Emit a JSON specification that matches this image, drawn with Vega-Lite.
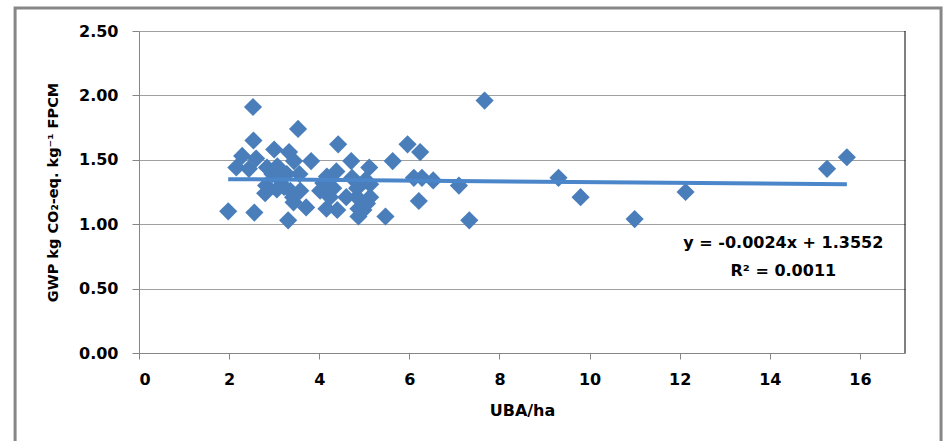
{
  "$schema": "https://vega.github.io/schema/vega-lite/v6.json",
  "width": 766,
  "height": 322,
  "autosize": {"type": "none"},
  "padding": {"left": 139, "top": 31, "right": 39, "bottom": 88},
  "background": "white",
  "config": {"view": {"stroke": null}, "font": "DejaVu Sans"},
  "datasets": {
    "farms": [
      {"uba": 1.98, "gwp": 1.10}, {"uba": 2.53, "gwp": 1.91}, {"uba": 3.53, "gwp": 1.74}, {"uba": 2.54, "gwp": 1.65},
      {"uba": 4.42, "gwp": 1.62}, {"uba": 2.29, "gwp": 1.53}, {"uba": 3.00, "gwp": 1.58}, {"uba": 3.33, "gwp": 1.56},
      {"uba": 2.60, "gwp": 1.51}, {"uba": 3.82, "gwp": 1.49}, {"uba": 4.71, "gwp": 1.49}, {"uba": 2.16, "gwp": 1.44},
      {"uba": 2.44, "gwp": 1.43}, {"uba": 3.07, "gwp": 1.45}, {"uba": 3.44, "gwp": 1.49}, {"uba": 5.11, "gwp": 1.44},
      {"uba": 4.38, "gwp": 1.41}, {"uba": 3.56, "gwp": 1.39}, {"uba": 2.96, "gwp": 1.39}, {"uba": 3.11, "gwp": 1.35},
      {"uba": 2.82, "gwp": 1.30}, {"uba": 3.22, "gwp": 1.29}, {"uba": 4.09, "gwp": 1.32}, {"uba": 4.31, "gwp": 1.28},
      {"uba": 4.84, "gwp": 1.28}, {"uba": 5.13, "gwp": 1.21}, {"uba": 2.80, "gwp": 1.24}, {"uba": 3.42, "gwp": 1.21},
      {"uba": 3.71, "gwp": 1.13}, {"uba": 2.56, "gwp": 1.09}, {"uba": 3.31, "gwp": 1.03}, {"uba": 4.16, "gwp": 1.12},
      {"uba": 4.40, "gwp": 1.11}, {"uba": 4.87, "gwp": 1.12}, {"uba": 4.87, "gwp": 1.06}, {"uba": 4.60, "gwp": 1.21},
      {"uba": 5.02, "gwp": 1.34}, {"uba": 4.18, "gwp": 1.34}, {"uba": 7.67, "gwp": 1.96}, {"uba": 5.96, "gwp": 1.62},
      {"uba": 6.24, "gwp": 1.56}, {"uba": 5.63, "gwp": 1.49}, {"uba": 6.10, "gwp": 1.36}, {"uba": 6.28, "gwp": 1.36},
      {"uba": 6.53, "gwp": 1.34}, {"uba": 7.10, "gwp": 1.30}, {"uba": 6.21, "gwp": 1.18}, {"uba": 5.47, "gwp": 1.06},
      {"uba": 7.33, "gwp": 1.03}, {"uba": 4.98, "gwp": 1.11}, {"uba": 9.31, "gwp": 1.36}, {"uba": 9.80, "gwp": 1.21},
      {"uba": 11.00, "gwp": 1.04}, {"uba": 12.13, "gwp": 1.25}, {"uba": 15.27, "gwp": 1.43}, {"uba": 15.71, "gwp": 1.52},
      {"uba": 2.84, "gwp": 1.44}, {"uba": 3.13, "gwp": 1.42}, {"uba": 3.06, "gwp": 1.27}, {"uba": 3.58, "gwp": 1.26},
      {"uba": 3.43, "gwp": 1.17}, {"uba": 4.02, "gwp": 1.26}, {"uba": 4.24, "gwp": 1.21}, {"uba": 4.84, "gwp": 1.21},
      {"uba": 5.06, "gwp": 1.16}, {"uba": 5.13, "gwp": 1.31}, {"uba": 4.73, "gwp": 1.36}, {"uba": 4.17, "gwp": 1.37},
      {"uba": 3.28, "gwp": 1.39}, {"uba": 3.36, "gwp": 1.26}
    ],
    "note": [{"line1": "y = -0.0024x + 1.3552", "line2": "R² = 0.0011"}]
  },
  "layer": [
    {
      "data": {"name": "farms"},
      "mark": {"type": "point", "shape": "diamond", "filled": true, "size": 330, "color": "#4a7ebb", "opacity": 1},
      "encoding": {
        "x": {
          "field": "uba", "type": "quantitative",
          "scale": {"domain": [0, 17], "nice": false, "zero": false},
          "axis": {
            "title": "UBA/ha", "values": [0, 2, 4, 6, 8, 10, 12, 14, 16], "grid": false,
            "domainColor": "#868686", "tickColor": "#868686", "tickSize": 6,
            "labelFont": "DejaVu Sans", "labelFontSize": 16, "labelFontWeight": "bold", "labelColor": "#000", "labelPadding": 12,
            "titleFont": "DejaVu Sans", "titleFontSize": 16, "titleFontWeight": "bold", "titleColor": "#000", "titlePadding": 15
          }
        },
        "y": {
          "field": "gwp", "type": "quantitative",
          "scale": {"domain": [0, 2.5], "nice": false},
          "axis": {
            "title": "GWP kg CO₂-eq. kg⁻¹ FPCM", "values": [0, 0.5, 1, 1.5, 2, 2.5], "format": ".2f",
            "grid": true, "gridColor": "#a0a0a0", "domainColor": "#868686", "tickColor": "#868686", "tickSize": 7,
            "labelFont": "DejaVu Sans", "labelFontSize": 16, "labelFontWeight": "bold", "labelColor": "#000", "labelPadding": 14,
            "titleFont": "DejaVu Sans", "titleFontSize": 14.5, "titleFontWeight": "bold", "titleColor": "#000", "titlePadding": 18
          }
        }
      }
    },
    {
      "data": {"name": "farms"},
      "transform": [{"regression": "gwp", "on": "uba", "extent": [1.98, 15.71]}],
      "mark": {"type": "line", "color": "#4a86c9", "strokeWidth": 4},
      "encoding": {
        "x": {"field": "uba", "type": "quantitative"},
        "y": {"field": "gwp", "type": "quantitative"}
      }
    },
    {
      "data": {"name": "note"},
      "mark": {"type": "rect", "fill": "transparent", "stroke": "#878787", "strokeWidth": 3},
      "encoding": {
        "x": {"datum": -2.75, "type": "quantitative"},
        "x2": {"datum": 17.8},
        "y": {"datum": 2.679, "type": "quantitative"},
        "y2": {"datum": -0.8}
      }
    },
    {
      "data": {"name": "note"},
      "mark": {"type": "rule", "color": "#000", "strokeWidth": 1},
      "encoding": {
        "x": {"datum": 17, "type": "quantitative"},
        "y": {"datum": 0, "type": "quantitative"},
        "y2": {"datum": 2.5}
      }
    },
    {
      "data": {"name": "note"},
      "mark": {"type": "text", "align": "center", "baseline": "middle",
               "font": "DejaVu Sans", "fontSize": 16, "fontWeight": "bold", "color": "#000"},
      "encoding": {
        "x": {"datum": 14.3, "type": "quantitative"},
        "y": {"datum": 0.855, "type": "quantitative"},
        "text": {"field": "line1"}
      }
    },
    {
      "data": {"name": "note"},
      "mark": {"type": "text", "align": "center", "baseline": "middle",
               "font": "DejaVu Sans", "fontSize": 16, "fontWeight": "bold", "color": "#000"},
      "encoding": {
        "x": {"datum": 14.3, "type": "quantitative"},
        "y": {"datum": 0.64, "type": "quantitative"},
        "text": {"field": "line2"}
      }
    }
  ]
}
